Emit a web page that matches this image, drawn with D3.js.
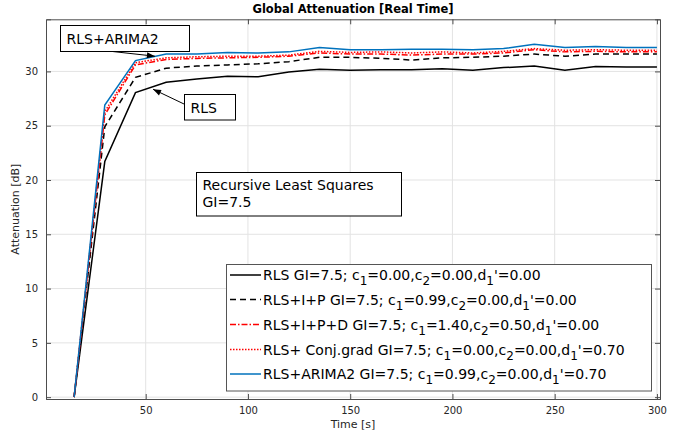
<!DOCTYPE html>
<html><head><meta charset="utf-8">
<script src="https://cdn.jsdelivr.net/npm/d3@7"></script>
<style>body{margin:0;background:#fff}svg{display:block}text{font-family:"DejaVu Sans",sans-serif}</style>
</head><body><svg id="c" width="683" height="438"></svg>
<script>
const time = [15,30,45,60,75,90,105,120,135,150,165,180,195,210,225,240,255,270,285,300];
const rls      = [0,21.7,28.05,29.0,29.3,29.55,29.5,29.95,30.2,30.1,30.15,30.15,30.25,30.1,30.35,30.5,30.1,30.45,30.4,30.4];
const rlsIP    = [0,24.9,29.45,30.3,30.5,30.6,30.7,30.9,31.3,31.3,31.2,31.05,31.25,31.3,31.4,31.6,31.4,31.6,31.6,31.6];
const rlsIPD   = [0,26.0,30.6,31.1,31.2,31.25,31.3,31.4,31.7,31.6,31.6,31.5,31.6,31.6,31.7,32.0,31.8,31.85,31.8,31.8];
const rlsCG    = [0,26.3,30.8,31.25,31.35,31.4,31.4,31.5,31.85,31.75,31.8,31.7,31.8,31.7,31.85,32.1,31.95,32.0,31.95,31.95];
const rlsArima = [0,26.9,31.0,31.6,31.6,31.75,31.7,31.8,32.2,32.0,32.0,32.05,32.05,32.0,32.1,32.5,32.2,32.3,32.2,32.2];
const xTicks = [50,100,150,200,250,300];
const yTicks = [0,5,10,15,20,25,30];
const seriesNames = ["RLS","RLS+I+P","RLS+I+P+D","RLS+ Conj.grad","RLS+ARIMA2"];
const seriesParams = [["0.00","0.00","0.00"],["0.99","0.00","0.00"],["1.40","0.50","0.00"],["0.00","0.00","0.70"],["0.99","0.00","0.70"]];
const gi = "7.5";

const svg = d3.select("#c");
const L=46,R=660,T=19.3,B=399;
const x = d3.scaleLinear().domain([1.25,301.5]).range([L,R]);
const y = d3.scaleLinear().domain([-0.17,34.8]).range([B,T]);
const axisCol="#4d4d4d", gridCol="#e3e3e3";

// grid
const g = svg.append("g");
g.selectAll(".gx").data(xTicks).join("line").attr("x1",d=>x(d)).attr("x2",d=>x(d)).attr("y1",T).attr("y2",B).attr("stroke",gridCol);
g.selectAll(".gy").data(yTicks).join("line").attr("y1",d=>y(d)).attr("y2",d=>y(d)).attr("x1",L).attr("x2",R).attr("stroke",gridCol);

// lines
const line = d3.line().x((d,i)=>x(time[i])).y(d=>y(d));
const styles = [
  {data:rls, color:"#000", dash:null, w:1.5},
  {data:rlsIP, color:"#000", dash:"6,4", w:1.5},
  {data:rlsIPD, color:"#ff0000", dash:"6,2,1.5,2", w:1.5},
  {data:rlsCG, color:"#ff0000", dash:"1.5,1.5", w:1.5},
  {data:rlsArima, color:"#0072BD", dash:null, w:1.5}
];
styles.forEach(s=>{
  svg.append("path").attr("d",line(s.data)).attr("fill","none").attr("stroke",s.color).attr("stroke-width",s.w).attr("stroke-dasharray",s.dash);
});

// axes
const ax = svg.append("g").attr("transform",`translate(0,${B})`).call(d3.axisBottom(x).tickValues(xTicks).tickSize(-5).tickPadding(8));
const ay = svg.append("g").attr("transform",`translate(${L},0)`).call(d3.axisLeft(y).tickValues(yTicks).tickSize(-5).tickPadding(8));
const axT = svg.append("g").attr("transform",`translate(0,${T})`).call(d3.axisTop(x).tickValues(xTicks).tickSize(-5).tickFormat(""));
const ayR = svg.append("g").attr("transform",`translate(${R},0)`).call(d3.axisRight(y).tickValues(yTicks).tickSize(-5).tickFormat(""));
[ax,ay,axT,ayR].forEach(a=>{a.selectAll("path").attr("stroke",axisCol);a.selectAll("line").attr("stroke",axisCol);
  a.selectAll("text").attr("fill","#262626").style("font-size","10px").style("font-family","DejaVu Sans");});

// title and labels
svg.append("text").attr("x",(L+R)/2).attr("y",13).attr("text-anchor","middle").style("font-weight","bold").style("font-size","11.5px").attr("fill","#000").text("Global Attenuation [Real Time]");
svg.append("text").attr("x",(L+R)/2).attr("y",428).attr("text-anchor","middle").style("font-size","11px").attr("fill","#262626").text("Time [s]");
svg.append("text").attr("transform",`translate(19,${(T+B)/2}) rotate(-90)`).attr("text-anchor","middle").style("font-size","11px").attr("fill","#262626").text("Attenuation [dB]");

// annotations
function arrow(x1,y1,x2,y2){
  svg.append("line").attr("x1",x1).attr("y1",y1).attr("x2",x2).attr("y2",y2).attr("stroke","#000").attr("stroke-width",1);
  const a=Math.atan2(y2-y1,x2-x1), s=8, w=3;
  const p=[[x2,y2],[x2-s*Math.cos(a)+w*Math.sin(a),y2-s*Math.sin(a)-w*Math.cos(a)],[x2-s*Math.cos(a)-w*Math.sin(a),y2-s*Math.sin(a)+w*Math.cos(a)]];
  svg.append("path").attr("d","M"+p.join("L")+"Z").attr("fill","#000");
}
function box(x0,y0,w,h,lines,fs,ly){
  svg.append("rect").attr("x",x0).attr("y",y0).attr("width",w).attr("height",h).attr("fill","#fff").attr("stroke","#000").attr("stroke-width",1);
  lines.forEach((t,i)=>svg.append("text").attr("x",x0+6).attr("y",ly[i]).style("font-size",fs+"px").attr("fill","#000").text(t));
}
arrow(90,49,x(54.5),y(31.4));
box(60.5,25.5,129,26,["RLS+ARIMA2"],14,[44]);
arrow(184,104,x(53.6),y(28.36));
box(184.5,94.5,51,25.5,["RLS"],14,[113]);
box(196.5,172.5,205,43.5,["Recursive Least Squares","GI="+gi],14,[190,207]);

// legend
const lg = svg.append("g");
lg.append("rect").attr("x",226.5).attr("y",264.5).attr("width",425).attr("height",126.5).attr("fill","#fff").attr("stroke","#555").attr("stroke-width",1);
const rowY=[275,299.5,324.5,349.5,374];
styles.forEach((s,i)=>{
  lg.append("line").attr("x1",230).attr("x2",261).attr("y1",rowY[i]).attr("y2",rowY[i]).attr("stroke",s.color).attr("stroke-width",s.w).attr("stroke-dasharray",s.dash);
  const t = lg.append("text").attr("x",263).attr("y",rowY[i]+5).style("font-size","14px").attr("fill","#000");
  const p=seriesParams[i];
  t.append("tspan").text(seriesNames[i]+" GI="+gi+"; c");
  t.append("tspan").attr("dy",5).style("font-size","12px").text("1");
  t.append("tspan").attr("dy",-5).text("="+p[0]+",c");
  t.append("tspan").attr("dy",5).style("font-size","12px").text("2");
  t.append("tspan").attr("dy",-5).text("="+p[1]+",d");
  t.append("tspan").attr("dy",5).style("font-size","12px").text("1");
  t.append("tspan").attr("dy",-5).text("'="+p[2]);
});
</script></body></html>
